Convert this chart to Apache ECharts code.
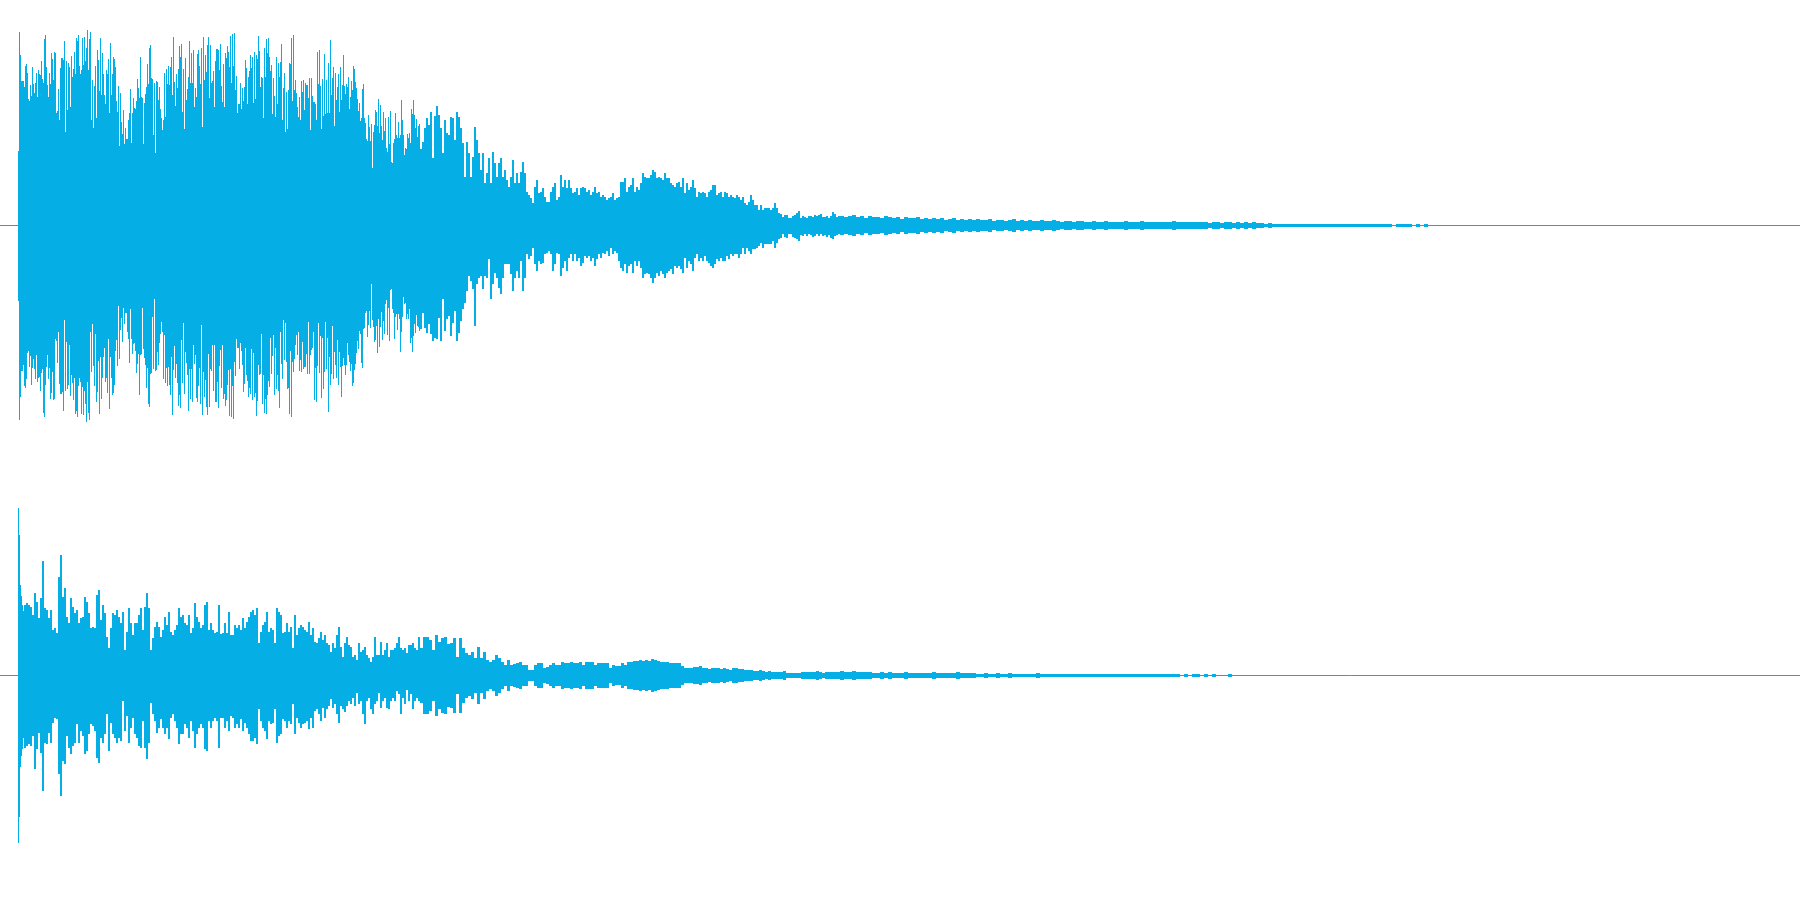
<!DOCTYPE html>
<html>
<head>
<meta charset="utf-8">
<style>html,body{margin:0;padding:0;background:#fff}#chart{width:1800px;height:900px}</style>
<script src="https://cdn.jsdelivr.net/npm/echarts@6/dist/echarts.min.js"></script>
</head>
<body>
<div id="chart"></div>
<script>
// Upper channel, attack section (one value per column)
const upperHighAttack = [74,193,170,144,144,144,138,159,161,152,126,124,140,129,158,141,132,142,152,128,155,151,150,164,146,142,186,190,158,140,128,152,141,172,166,145,173,172,112,114,136,105,157,167,167,165,184,93,164,115,162,158,118,169,148,156,173,151,187,184,190,159,151,155,187,160,188,164,177,195,155,186,193,105,145,97,139,159,107,175,165,134,187,130,172,151,130,121,155,151,166,112,182,130,151,168,166,158,124,113,139,79,132,103,91,115,81,97,86,86,105,112,136,82,112,127,117,116,124,146,137,127,168,128,127,81,122,131,138,161,141,177,180,147,146,90,142,72,144,143,125,138,116,107,95,105,152,108,156,141,159,140,158,168,130,188,143,119,151,137,156,179,168,181,113,156,96,167,125,136,148,184,142,172,142,175,118,137,128,171,175,159,141,177,98,188,145,170,153,180,188,127,180,142,144,154,118,164,176,176,175,155,181,139,123,161,118,172,167,179,173,158,189,142,191,159,192,135,149,112,121,121,142,116,137,124,138,165,157,121,148,154,170,157,168,122,173,126,170,166,189,174,138,148,147,107,177,148,186,172,187,168,154,160,111,147,129,108,168,121,162,148,163,181,105,137,152,93,133,96,135,162,161,187,124,190,135,145,132,118,108,128,105,144,133,145,115,142,140,140,127,147,95,147,129,123,123,121,105,173,141,175,139,96,146,109,171,111,145,112,162,112,185,130,147,158,99,152,125,138,151,113,158,125,140,170,139,131,141,138,148,116,128,144,135,159,156,143,137,126,114,122,104,107,136,141,107,102,86,84,110,98,84,101,57,93,100,115,113,99,126,92,120,99,85,113,94,107,77,73,108,81,114,63,62,82,86,112,90,87,103,87,90,125,105,90,70,77,76,91,87,92,82,116,111,125,110,97,106,88,99,101,99,95,104,98,101,94];
const upperLowAttack = [75,194,171,145,145,139,160,162,153,127,125,141,130,159,142,133,143,153,129,156,152,151,165,147,143,187,191,159,141,129,153,142,173,167,146,174,173,113,115,137,106,158,168,168,166,185,94,165,116,163,159,119,170,149,157,174,152,188,185,191,160,152,156,188,161,189,165,178,196,156,187,194,106,146,98,140,160,108,176,166,135,188,131,173,152,131,122,156,152,167,113,183,131,152,169,167,159,125,114,140,80,133,104,92,116,82,98,87,87,106,113,137,83,113,128,118,117,125,147,138,128,169,129,128,82,123,132,139,162,142,178,181,148,147,91,143,73,145,144,126,139,117,108,96,106,153,109,157,142,160,141,159,169,131,189,144,120,152,138,157,180,169,182,114,157,97,168,126,137,149,185,143,173,143,176,119,138,129,172,176,160,142,178,99,189,146,171,154,181,189,128,181,143,145,119,165,119,176,176,156,182,140,124,162,119,173,168,180,174,159,144,190,143,191,160,193,136,150,113,122,122,143,117,125,139,166,158,122,149,155,171,162,168,123,174,127,171,167,190,175,139,149,148,108,178,149,187,173,188,169,155,161,112,148,130,109,169,122,163,149,165,182,106,138,153,94,134,97,136,163,162,188,125,191,136,146,133,119,109,129,106,145,134,146,116,143,141,141,128,148,96,148,129,124,122,106,174,142,176,140,97,147,110,172,112,163,146,96,143,112,186,131,159,148,100,153,126,139,152,114,159,126,141,171,140,132,139,149,139,117,129,136,145,138,160,157,144,138,127,115,123,105,108,137,142,103,102,87,85,111,99,85,102,58,94,101,116,114,100,127,93,121,101,86,114,95,108,78,74,109,82,115,64,63,83,87,113,91,88,104,88,93,126,106,91,71,78,77,93,88,93,83,117,112,126,110,98,107,89,100,101,105,98,110,102,97,104,108];
// Upper channel, decay section (one value per two columns)
const upperHighDecay = [76,83,97,107,100,113,67,109,119,110,97,72,105,92,90,108,107,85,113,108,97,82,48,83,72,48,68,98,85,72,55,72,42,52,67,42,73,62,48,62,67,48,55,45,38,48,65,42,52,42,53,63,52,33,30,27,22,38,45,32,33,37,28,23,23,33,38,42,25,28,50,38,45,37,45,37,32,33,37,30,37,38,37,33,35,30,33,38,32,33,28,30,28,25,27,28,32,25,27,28,43,43,47,33,38,40,47,33,38,35,42,52,48,47,47,50,55,53,47,48,47,45,52,47,47,42,40,38,42,43,38,47,32,42,35,38,45,37,28,33,32,33,32,28,33,35,40,40,30,32,33,28,33,32,28,30,28,27,30,28,25,28,22,20,23,30,25,20,20,15,20,15,17,17,17,15,17,22,17,12,11,8,10,10,7,7,9,10,12,14,7,9,8,7,9,9,8,10,9,10,11,8,8,9,7,9,13,11,8,9,9,8,9];
const upperLowDecay = [103,87,102,107,98,108,115,112,113,92,115,73,105,93,90,110,97,85,115,107,95,83,77,65,50,55,63,100,58,52,50,63,50,52,33,73,58,47,52,62,68,52,38,38,38,48,65,52,45,52,35,65,52,28,33,30,22,38,45,35,38,37,28,27,25,28,45,38,27,28,50,42,35,45,32,28,35,28,35,32,40,37,30,32,30,35,32,40,33,28,32,27,28,25,30,22,28,25,27,35,42,45,38,47,40,38,47,35,40,35,42,52,48,47,48,52,57,52,47,50,45,48,52,47,45,43,48,40,42,40,43,47,32,42,35,38,45,32,28,35,32,35,30,35,37,40,42,38,33,35,32,35,35,30,33,28,30,28,28,32,28,22,28,22,25,28,23,23,22,20,17,22,18,18,18,18,15,22,17,13,12,8,11,12,8,8,11,12,13,15,9,10,8,10,8,9,11,10,8,10,8,10,9,11,9,12,13,10,9,8,9,8,9];
// Upper channel, tail (one value per four columns, mirrored around zero)
const upperTail = [9,8,9,10,8,9,7,9,8,8,7,9,8,7,8,6,8,7,7,8,6,7,6,7,6,7,5,6,7,5,6,5,6,5,6,5,5,6,4,5,5,4,5,6,4,5,4,5,4,4,5,4,4,5,4,3,4,4,3,4,4,3,3,4,3,3,4,3,3,3,3,4,3,3,3,4,3,3,3,3,3,3,3,4,3,3,3,3,3,3,3,3,2,3,3,2,3,3,2,3,2,3,2,3,2,2,1,2,1,1,1,1,1,1,1,1,1,1,1,1,1,1,1,1,1,1,1,1,1,1,1,1,1,1,1,1,1,1,0,1,1,1,1,0,1,0,1,0];

// Lower channel, first columns
const lowerHighAttack = [167,140,90,79,70,64];
const lowerLowAttack = [167,141,91,80,73,62];
// Lower channel, body (one value per two columns)
const lowerHighBody = [70,72,70,68,60,82,73,57,77,114,67,65,57,65,45,47,42,98,120,78,87,58,52,77,68,62,65,52,57,58,78,73,62,47,48,47,80,85,55,70,62,38,27,47,62,60,65,58,52,63,25,43,67,52,40,52,52,60,67,45,68,82,67,25,37,48,53,48,38,45,58,50,63,43,40,45,50,67,58,60,52,50,60,42,47,72,58,53,47,50,70,73,45,52,45,42,43,70,41,42,52,42,63,40,40,50,47,50,45,57,47,53,58,63,65,60,67,32,43,50,53,63,43,47,45,32,67,63,60,42,43,52,43,48,27,60,40,47,50,48,45,43,53,40,47,33,32,37,43,35,40,32,30,23,32,27,40,48,28,18,32,38,30,28,18,20,15,32,23,25,28,20,17,13,18,38,20,20,33,20,25,32,18,25,25,27,32,38,27,25,27,22,30,30,32,27,25,38,30,27,32,28];
const lowerLowBody = [72,70,68,70,60,93,73,57,77,115,67,68,57,67,47,42,43,98,120,85,88,60,72,78,70,67,48,67,55,60,78,75,58,48,50,55,82,87,62,67,58,38,75,47,58,62,67,62,65,25,55,40,67,52,42,58,62,70,72,45,72,83,67,27,38,45,57,52,43,52,58,52,63,42,38,45,52,68,58,58,48,52,62,45,55,72,58,52,48,52,73,75,45,52,45,42,45,72,42,42,52,45,55,40,42,52,48,52,43,55,47,52,58,65,65,62,68,33,45,52,55,63,45,48,47,33,67,60,58,43,45,52,45,48,28,58,42,47,52,48,47,45,53,42,52,35,33,38,45,32,42,33,30,23,32,28,38,47,30,33,36,30,25,28,22,30,17,28,25,38,48,25,22,33,38,28,25,17,32,25,22,32,33,25,22,25,15,18,38,22,28,14,25,18,33,25,22,25,32,38,28,28,23,28,32,28,32,30,25,38,28,30,27,32,28];
// Lower channel, decay (one value per three columns, mirrored around zero)
const lowerDecay = [27,38,38,35,25,40,33,37,38,31,32,37,18,37,27,22,20,23,17,28,17,23,15,13,15,20,17,13,10,15,10,11,12,13,10,10,5,5,10,12,12,7,8,10,12,10,10,13,12,12,13,12,12,13,10,13,13,13,10,12,12,12,12,7,10,9,9,12,10,13,13,14,14,15,14,15,14,16,15,14,13,13,13,12,12,12,12,9,7,7,7,8,8,9,7,7,6,7,7,7,6,7,6,5,7,7,6,6,5,5,5,4,4,5,4,3,4,3,3,3,3,4,2,2,2,2,2,3,3,3,3,3,4,3,2,3,3,3,3,3,3,3];
// Lower channel, tail (one value per four columns, mirrored around zero)
const lowerTail = [4,3,3,4,3,3,3,3,2,2,3,2,3,2,2,2,3,2,2,2,2,2,2,3,2,2,2,2,2,3,2,2,2,2,1,1,2,1,1,2,1,1,2,1,1,1,1,1,1,2,1,1,1,1,1,1,1,1,1,1,1,1,1,1,1,1,1,1,1,1,1,1,1,1,1,1,1,1,1,1,1,1,1,1,1,0,1,0,1,1,0,1,0,1,0,0,0,1,0,0];

const waveColor = '#06aee6';

function addSegment(rows, start, end, step, highs, lows) {
  highs.forEach(function (h, i) {
    const t = start + i * step;
    if (t < end) rows.push([t, h, lows[i] === undefined ? h : lows[i], step]);
  });
  return rows;
}

const upperRows = [];
addSegment(upperRows, 18, 420, 1, upperHighAttack, upperLowAttack);
addSegment(upperRows, 420, 840, 2, upperHighDecay, upperLowDecay);
addSegment(upperRows, 840, 1800, 4, upperTail, upperTail);

const lowerRows = [];
addSegment(lowerRows, 18, 24, 1, lowerHighAttack, lowerLowAttack);
addSegment(lowerRows, 24, 420, 2, lowerHighBody, lowerLowBody);
addSegment(lowerRows, 420, 840, 3, lowerDecay, lowerDecay);
addSegment(lowerRows, 840, 1800, 4, lowerTail, lowerTail);

function renderColumn(params, api) {
  const t = api.value(0), step = api.value(3);
  const a = api.coord([t, api.value(1)]);
  const b = api.coord([t + step, -api.value(2)]);
  return {
    type: 'rect',
    shape: { x: a[0], y: a[1], width: b[0] - a[0], height: b[1] - a[1] + 1 },
    style: { fill: waveColor }
  };
}

function xAxisFor(idx) {
  return {
    gridIndex: idx, type: 'value', min: 0, max: 1800,
    axisLine: { show: true, onZero: true, lineStyle: { color: waveColor, width: 1 } },
    axisTick: { show: false }, axisLabel: { show: false }, splitLine: { show: false }
  };
}
function yAxisFor(idx) {
  return { gridIndex: idx, type: 'value', min: -225, max: 225, show: false, splitLine: { show: false } };
}
function seriesFor(idx, rows) {
  return {
    type: 'custom', xAxisIndex: idx, yAxisIndex: idx, data: rows,
    renderItem: renderColumn, silent: true, animation: false, clip: false,
    encode: { x: 0, y: 1 }
  };
}

const chart = echarts.init(document.getElementById('chart'), null, { renderer: 'canvas' });
chart.setOption({
  backgroundColor: '#ffffff',
  animation: false,
  grid: [
    { left: 0, right: 0, top: 0, height: 450 },
    { left: 0, right: 0, top: 450, height: 450 }
  ],
  xAxis: [xAxisFor(0), xAxisFor(1)],
  yAxis: [yAxisFor(0), yAxisFor(1)],
  series: [seriesFor(0, upperRows), seriesFor(1, lowerRows)]
});
</script>
</body>
</html>
